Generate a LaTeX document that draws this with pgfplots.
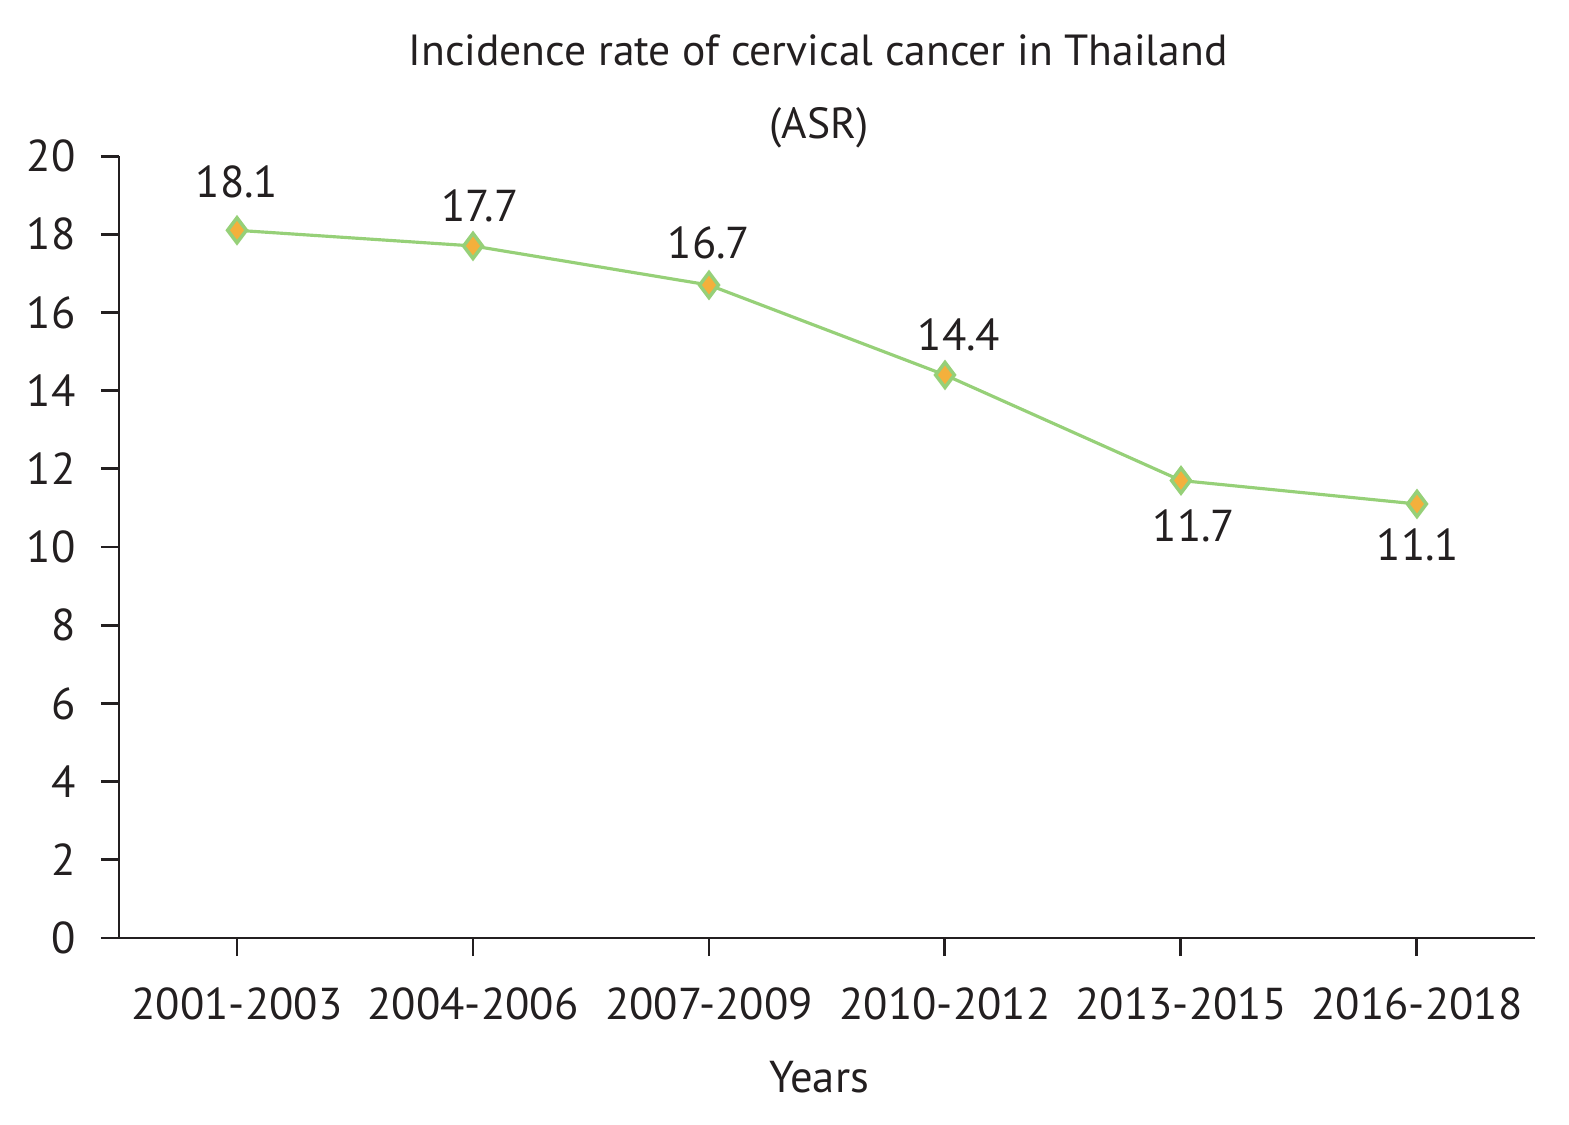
\documentclass[border=0pt]{standalone}
\usepackage{pgfplots}
\pgfplotsset{compat=1.18}
\usepackage{fontspec}
\setmainfont{PT Sans}
\definecolor{axcol}{RGB}{35,31,32}
\definecolor{lineg}{RGB}{150,208,120}
\definecolor{mkfill}{RGB}{244,176,60}
\newcommand\ff{\fontsize{12.7pt}{15pt}\selectfont}
\begin{document}
\begin{tikzpicture}
\ff
\path[use as bounding box] (-11.9mm,-18.7mm) rectangle (145mm,93.8mm);
\begin{axis}[
  at={(0,0)}, anchor=south west,
  scale only axis, width=141.6mm, height=78.2mm,
  xmin=-0.5, xmax=5.5, ymin=0, ymax=20,
  axis lines*=left,
  axis line style={axcol, line width=0.85pt},
  xtick={0,...,5},
  xticklabels={2001-2003,2004-2006,2007-2009,2010-2012,2013-2015,2016-2018},
  ytick={0,2,...,20},
  tick style={axcol, line width=0.85pt},
  tick align=outside,
  major tick length=1.8mm,
  x tick label style={yshift=-1.6mm},
  y tick label style={xshift=-1.0mm},
  ticklabel style={font=\ff, text=axcol},
  /pgf/number format/assume math mode=true,
  xlabel={Years},
  xlabel style={font=\ff, text=axcol, yshift=-1.1mm, xshift=-0.8mm},
  clip=false,
  nodes near coords,
  point meta=explicit symbolic,
  every node near coord/.style={font=\ff, text=axcol},
]
\addplot[lineg, line width=0.9pt, mark=diamond*, mark size=1.25mm,
  mark options={draw=lineg, fill=mkfill, line width=1pt},
  visualization depends on={value \thisrow{dy} \as \dy},
  visualization depends on={value \thisrow{dx} \as \dx},
  every node near coord/.append style={anchor=center, yshift=\dy, xshift=\dx}]
 table[meta=lab] {
x y lab dy dx
0 18.1 18.1 4.8mm 0mm
1 17.7 17.7 4.0mm 0.7mm
2 16.7 16.7 4.2mm 0mm
3 14.4 14.4 4.0mm 1.4mm
4 11.7 11.7 -4.5mm 1.3mm
5 11.1 11.1 -4.1mm 0.1mm
};
\end{axis}
\node[text=axcol, font=\fontsize{12.4pt}{15pt}\selectfont] at (69.9mm,88.8mm) {Incidence rate of cervical cancer in Thailand};
\node[text=axcol, font=\fontsize{12.4pt}{15pt}\selectfont] at (70.0mm,81.0mm) {(ASR)};
\end{tikzpicture}
\end{document}
